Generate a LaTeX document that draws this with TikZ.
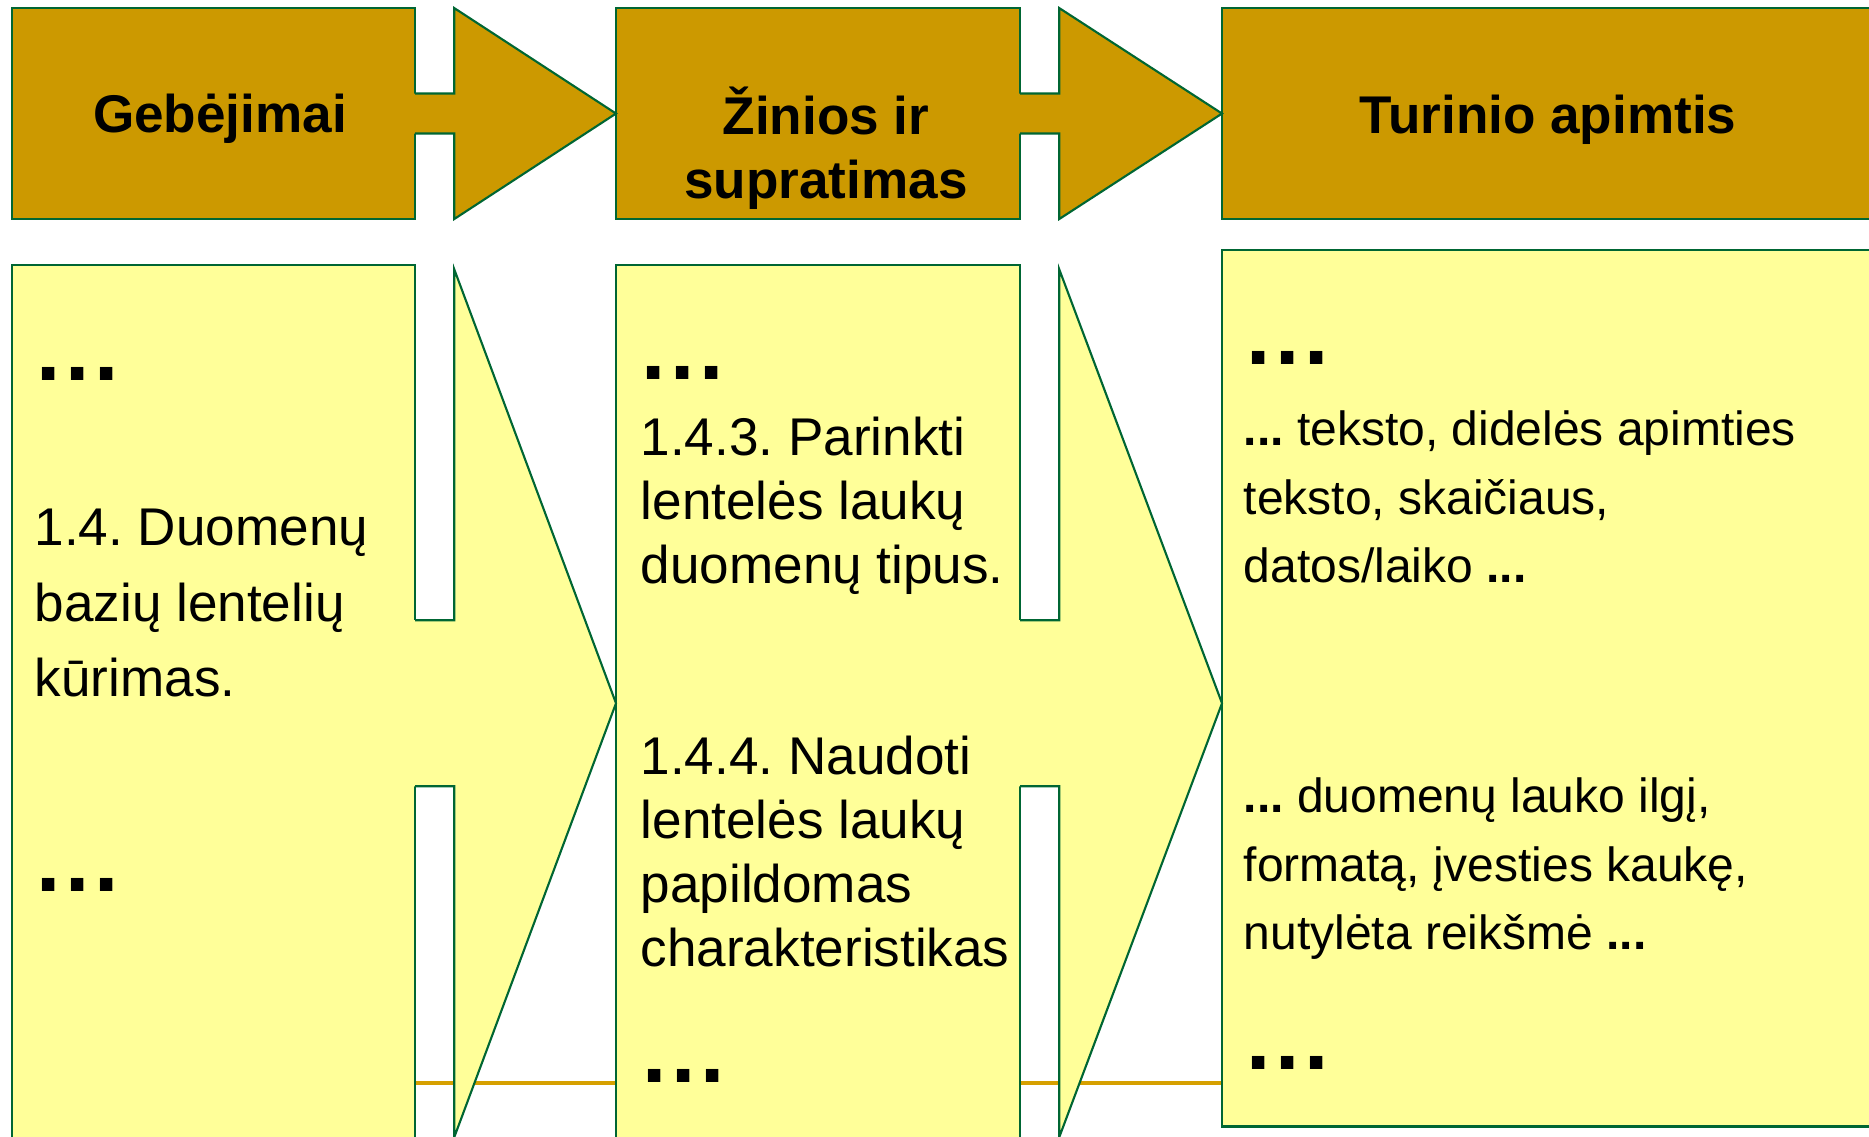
\documentclass[tikz,border=0pt]{standalone}
\usepackage{fontspec}
\setmainfont{Liberation Sans}
\usetikzlibrary{calc}
\frenchspacing

\definecolor{hdgold}{RGB}{204,153,0}
\definecolor{bdyellow}{RGB}{255,255,153}
\definecolor{edgegreen}{RGB}{0,102,51}
\definecolor{rulegold}{RGB}{214,160,0}

\newcommand{\sqdots}{{\fontsize{24.9}{24.9}\selectfont\bfseries .\kern1.3pt.\kern1.3pt.}}

\tikzset{
  headbox/.style={draw=edgegreen, fill=hdgold, line width=0.6pt, minimum height=2.11cm, inner sep=0pt, outer sep=0pt, anchor=north west},
  bodybox/.style={draw=edgegreen, fill=bdyellow, line width=0.6pt, minimum height=8.76cm, inner sep=0pt, outer sep=0pt, anchor=north west},
  headtext/.style={anchor=base, align=center, inner sep=0pt, font=\fontsize{15.1}{18.2}\selectfont\bfseries},
  bodytext/.style={anchor=base west, align=left, inner sep=0pt, font=\fontsize{15.1}{18.2}\selectfont},
  righttext/.style={bodytext, font=\fontsize{13.65}{19.6}\selectfont},
  arrowedge/.style={draw=edgegreen, line width=0.6pt},
}

\begin{document}
\begin{tikzpicture}[x=0.01cm, y=-0.01cm]
  \useasboundingbox (0,0) rectangle (1869,1137);
  \clip (0,0) rectangle (1869,1137);

  % Gold rule behind the boxes
  \draw[rulegold, line width=1pt] (12,1083) -- (1869,1083);

  % Header boxes
  \node[headbox, minimum width=4.03cm] (hdA) at (12,8) {};
  \node[headbox, minimum width=4.04cm] (hdB) at (616,8) {};
  \node[headbox, minimum width=6.6cm] (hdC) at (1222,8) {};

  % Body boxes
  \node[bodybox, minimum width=4.03cm] (bxA) at (12,265) {};
  \node[bodybox, minimum width=4.04cm] (bxB) at (616,265) {};
  \node[bodybox, minimum width=6.6cm] (bxC) at (1222,250) {};

  % Header arrows
  \foreach \a/\b in {hdA/hdB, hdB/hdC} {
    \fill[hdgold] ($(\a.east)+(-2,-20)$) -- ++(41,0) -- ++(0,-85.5) -- (\b.west)
      -- ($(\a.east)+(39,105.5)$) -- ++(0,-85.5) -- ++(-41,0) -- cycle;
    \draw[arrowedge] ($(\a.east)+(0,-20)$) -- ++(39,0) -- ++(0,-85.5) -- (\b.west)
      -- ($(\a.east)+(39,105.5)$) -- ++(0,-85.5) -- ++(-39,0);
  }

  % Body arrows
  \foreach \a/\b in {bxA/bxB, bxB/bxC} {
    \fill[bdyellow] ($(\a.east)+(-2,-83)$) -- ++(41,0) -- ++(0,-351) -- (\b.west |- \a.east)
      -- ($(\a.east)+(39,434)$) -- ++(0,-351) -- ++(-41,0) -- cycle;
    \draw[arrowedge] ($(\a.east)+(0,-83)$) -- ++(39,0) -- ++(0,-351) -- (\b.west |- \a.east)
      -- ($(\a.east)+(39,434)$) -- ++(0,-351) -- ++(-39,0);
  }

  % Header labels (base = last line)
  \node[headtext] (tA) at (220,133) {Gebėjimai};
  \node[headtext] (tB) at (826,199) {Žinios ir\\supratimas};
  \node[headtext] (tC) at (1548,134) {Turinio apimtis};

  % Left column
  \node[bodytext] (dA1) at (36,381) {\sqdots};
  \node[bodytext, font=\fontsize{15.1}{21.6}\selectfont] (skA) at (34,697) {1.4. Duomenų\\bazių lentelių\\kūrimas.};
  \node[bodytext] (dA2) at (36,892) {\sqdots};

  % Middle column
  \node[bodytext] (dB1) at (641,380) {\sqdots};
  \node[bodytext] (knB1) at (640,584) {1.4.3. Parinkti\\lentelės laukų\\duomenų tipus.};
  \node[bodytext] (knB2) at (640,967) {1.4.4. Naudoti\\lentelės laukų\\papildomas\\charakteristikas};
  \node[bodytext] (dB2) at (642,1083) {\sqdots};

  % Right column
  \node[bodytext] (dC1) at (1246,365) {\sqdots};
  \node[righttext] (scC1) at (1243,583) {\textbf{...} teksto, didelės apimties\\teksto, skaičiaus,\\datos/laiko \textbf{...}};
  \node[righttext] (scC2) at (1243,950) {\textbf{...} duomenų lauko ilgį,\\formatą, įvesties kaukę,\\nutylėta reikšmė \textbf{...}};
  \node[bodytext] (dC2) at (1246,1070) {\sqdots};
\end{tikzpicture}
\end{document}
